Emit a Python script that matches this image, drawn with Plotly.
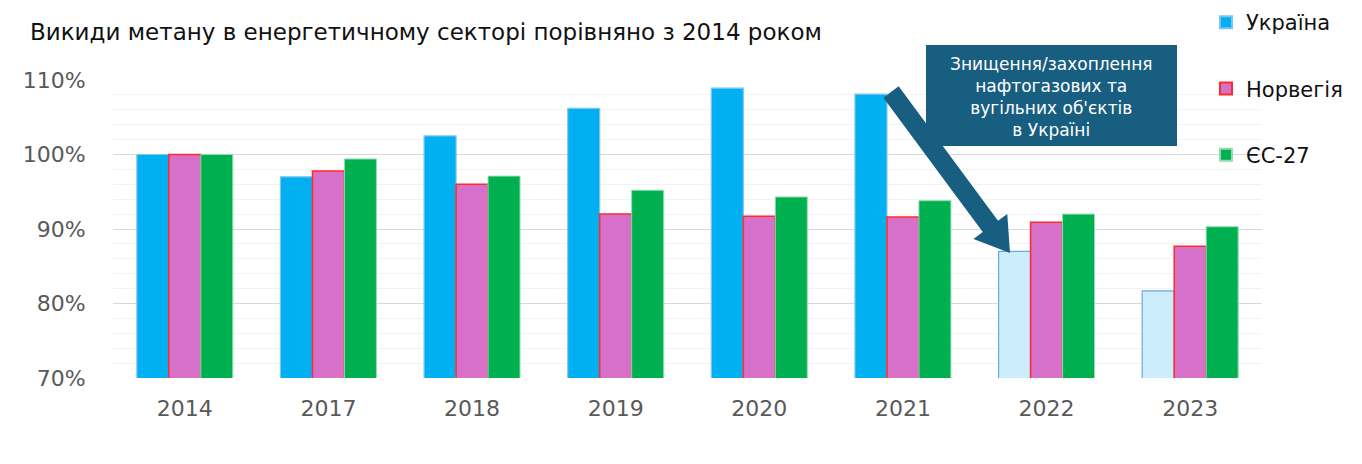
import math
import plotly.graph_objects as go

years = ["2014", "2017", "2018", "2019", "2020", "2021", "2022", "2023"]
ukraine = [100.0, 97.0, 102.5, 106.2, 108.9, 108.1, 87.0, 81.7]
norway = [100.0, 97.8, 96.0, 92.0, 91.7, 91.6, 90.9, 87.7]
eu27 = [100.0, 99.4, 97.1, 95.2, 94.3, 93.8, 92.0, 90.3]
series_names = ["Україна", "Норвегія", "ЄС-27"]
y_tickvals = [70, 80, 90, 100, 110]
y_ticktext = ["70%", "80%", "90%", "100%", "110%"]
title_text = "Викиди метану в енергетичному секторі порівняно з 2014 роком"
note_text = "Знищення/захоплення<br>нафтогазових та<br>вугільних об'єктів<br>в Україні"

W, H = 1362, 464
L, R, T, B = 113, 100, 80, 86
plot_w = W - L - R
plot_h = H - T - B
y0, y1 = 70, 110

FONT = "DejaVu Sans"

ua_fill = ["#00B0F0" if i < 6 else "#CCEEFC" for i in range(len(years))]
ua_line = ["#7FC4EE" if i < 6 else "#6FA8DC" for i in range(len(years))]

fig = go.Figure()
fig.add_trace(go.Bar(x=years, y=ukraine, name=series_names[0], legendgroup="a",
                     marker=dict(color=ua_fill, line=dict(color=ua_line, width=1.2))))
fig.add_trace(go.Bar(x=years, y=norway, name=series_names[1], legendgroup="b",
                     marker=dict(color="#D670C8", line=dict(color="#FF2A2A", width=1.5))))
fig.add_trace(go.Bar(x=years, y=eu27, name=series_names[2], legendgroup="c",
                     marker=dict(color="#00B050", line=dict(color="#8FDDB0", width=1))))


def to_data(px, py):
    xd = (px - L) / (plot_w / len(years)) - 0.5
    yd = y0 + (T + plot_h - py) / (plot_h / (y1 - y0))
    return xd, yd


tx, ty = 891, 92
px_, py_ = 1010, 253
dx, dy = px_ - tx, py_ - ty
ln = math.hypot(dx, dy)
ux, uy = dx / ln, dy / ln
nx, ny = uy, -ux
hw, hhw, hl = 9.5, 21, 33
bx, by = px_ - hl * ux, py_ - hl * uy
pts = [(tx + hw * nx, ty + hw * ny), (bx + hw * nx, by + hw * ny), (bx + hhw * nx, by + hhw * ny),
       (px_, py_), (bx - hhw * nx, by - hhw * ny), (bx - hw * nx, by - hw * ny), (tx - hw * nx, ty - hw * ny)]
dpts = [to_data(a, b) for a, b in pts]
path = "M " + " L ".join(f"{a:.4f},{b:.4f}" for a, b in dpts) + " Z"

box_col = "#185E80"
shapes = [
    dict(type="path", path=path, xref="x", yref="y", fillcolor=box_col, line=dict(width=0), layer="above"),
    dict(type="rect", xref="paper", yref="paper",
         x0=(926 - L) / plot_w, x1=(1177 - L) / plot_w,
         y0=(T + plot_h - 146) / plot_h, y1=(T + plot_h - 45) / plot_h,
         fillcolor=box_col, line=dict(width=0), layer="above"),
]

fig.update_layout(
    width=W, height=H,
    margin=dict(l=L, r=R, t=T, b=B, autoexpand=False),
    paper_bgcolor="white", plot_bgcolor="white",
    barmode="group", bargap=0.332, bargroupgap=0,
    font=dict(family=FONT, color="#595959"),
    title=dict(text=title_text, x=30 / W, xanchor="left", y=1 - 32 / H, yanchor="middle",
               font=dict(family=FONT, size=23, color="#111111")),
    legend=dict(x=(1206 - L) / plot_w, xanchor="left", y=(T + plot_h - 2) / plot_h, yanchor="top",
                font=dict(family=FONT, size=21, color="#111111"), tracegroupgap=36,
                bgcolor="rgba(0,0,0,0)", itemsizing="constant"),
    shapes=shapes,
    annotations=[dict(text=note_text, xref="paper", yref="paper",
                      x=(1051.5 - L) / plot_w, y=(T + plot_h - 97) / plot_h,
                      xanchor="center", yanchor="middle",
                      showarrow=False, align="center",
                      font=dict(family=FONT, size=17, color="white"))],
)
fig.update_xaxes(type="category", showgrid=False, showline=False, zeroline=False,
                 ticks="outside", ticklen=11, tickcolor="rgba(0,0,0,0)",
                 tickfont=dict(family=FONT, size=22, color="#595959"))
fig.update_yaxes(range=[y0, y1], tickvals=y_tickvals, ticktext=y_ticktext,
                 showgrid=True, gridcolor="#D9D9D9", gridwidth=1, zeroline=False,
                 showline=False, ticks="outside", ticklen=22, tickcolor="rgba(0,0,0,0)",
                 tickfont=dict(family=FONT, size=22, color="#595959"),
                 minor=dict(dtick=2, showgrid=True, gridcolor="#F2F2F2", gridwidth=1))

fig.write_html("out.html")
